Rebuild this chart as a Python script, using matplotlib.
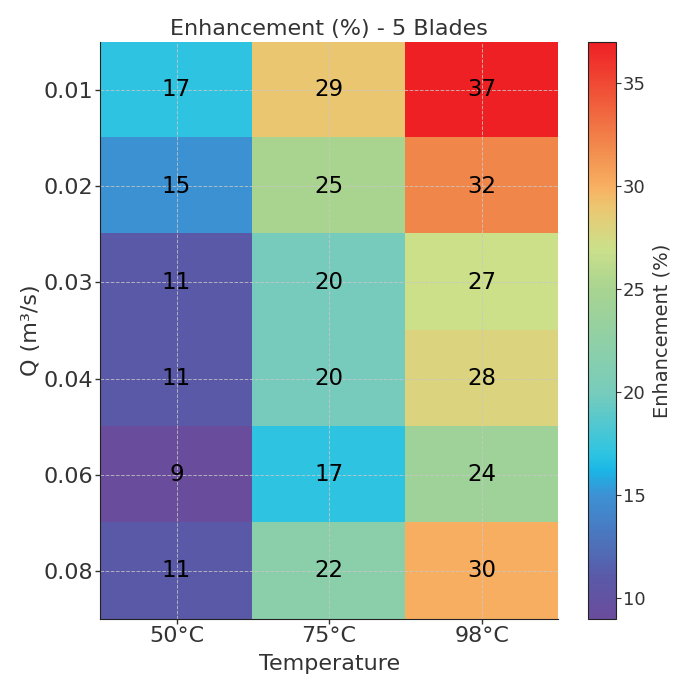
import numpy as np
import matplotlib
matplotlib.use("Agg")
import matplotlib.pyplot as plt
from matplotlib.colors import LinearSegmentedColormap

# Enhancement values per flow rate (rows) and temperature (columns)
flow_rates = ["0.01", "0.02", "0.03", "0.04", "0.06", "0.08"]
temperatures = ["50°C", "75°C", "98°C"]
enh_50 = [17, 15, 11, 11, 9, 11]
enh_75 = [29, 25, 20, 20, 17, 22]
enh_98 = [37, 32, 27, 28, 24, 30]

data = np.array([enh_50, enh_75, enh_98]).T

# spectral-like map: purple -> blue -> cyan -> green -> yellow -> orange -> red
vmin, vmax = data.min(), data.max()
anchors = [
    (9, "#6a4c9c"),
    (11, "#5a5aa8"),
    (15, "#3c92d4"),
    (16.2, "#1ab6e6"),
    (17, "#2ec4e2"),
    (20, "#78ccbc"),
    (25, "#a8d490"),
    (27, "#cce08a"),
    (29, "#ecc670"),
    (30, "#f8b062"),
    (32, "#f2884c"),
    (37, "#ee2024"),
]
cmap = LinearSegmentedColormap.from_list(
    "enh", [((v - vmin) / (vmax - vmin), c) for v, c in anchors])

text_col = "#333333"
plt.rcParams["font.family"] = "DejaVu Sans"

fig = plt.figure(figsize=(6.82, 6.75), dpi=100)
ax = fig.add_axes([0.147, 0.083, 0.671, 0.855])
cax = fig.add_axes([0.862, 0.083, 0.041, 0.855])

im = ax.imshow(data, cmap=cmap, vmin=vmin, vmax=vmax, aspect="auto",
               interpolation="nearest")

for i in range(data.shape[0]):
    for j in range(data.shape[1]):
        ax.text(j, i, f"{data[i, j]}", ha="center", va="center",
                fontsize=16.5, color="black")

ax.set_xticks(range(len(temperatures)))
ax.set_xticklabels(temperatures)
ax.set_yticks(range(len(flow_rates)))
ax.set_yticklabels(flow_rates)
ax.tick_params(labelsize=16, colors=text_col, length=3.5, width=1, pad=1.5)
for lab in ax.get_xticklabels() + ax.get_yticklabels():
    lab.set_color(text_col)

ax.grid(True, color="#c8c8c8", linestyle="--", linewidth=0.7, alpha=0.8)
for side in ["top", "right"]:
    ax.spines[side].set_visible(False)
for side in ["left", "bottom"]:
    ax.spines[side].set_color("#222222")

ax.set_xlabel("Temperature", fontsize=16, color=text_col, labelpad=6)
ax.set_ylabel("Q (m³/s)", fontsize=16, color=text_col, labelpad=2)
ax.set_title("Enhancement (%) - 5 Blades", fontsize=16, color=text_col, pad=5)

cb = fig.colorbar(im, cax=cax)
cb.set_label("Enhancement (%)", fontsize=14, color=text_col, labelpad=5)
cb.set_ticks([10, 15, 20, 25, 30, 35])
cb.ax.tick_params(labelsize=13, colors=text_col, length=3.5, pad=1.5)
cb.outline.set_edgecolor("#222222")

fig.savefig("out.png", dpi=100)
